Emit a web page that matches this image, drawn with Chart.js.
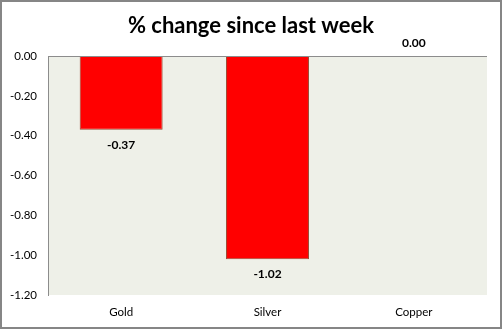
<!DOCTYPE html>
<html>
<head>
<meta charset="utf-8">
<script src="https://cdn.jsdelivr.net/npm/chart.js@4"></script>
<style>
  html, body { margin: 0; padding: 0; background: #fff; }
  #wrap { width: 502px; height: 329px; }
</style>
</head>
<body>
<div id="wrap"><canvas id="chart" width="502" height="329"></canvas></div>
<script>
const categories = ["Gold", "Silver", "Copper"];
const changes = [-0.37, -1.02, 0.0];
const yTicks = [0, -0.2, -0.4, -0.6, -0.8, -1.0, -1.2];
const titleText = "% change since last week";

const FONT = "Lato, 'Open Sans', sans-serif";

// plot background, zero line, title, outer frame and value labels
const decor = {
  id: "decor",
  beforeDraw(chart) {
    const { ctx, chartArea: a } = chart;
    ctx.save();
    ctx.fillStyle = "#eef0e8";
    ctx.fillRect(a.left, a.top, a.right - a.left, a.bottom - a.top);
    ctx.restore();
  },
  afterDatasetsDraw(chart) {
    const { ctx, scales } = chart;
    const y0 = Math.round(scales.y.getPixelForValue(0)) + 0.5;
    ctx.save();
    ctx.strokeStyle = "#8c8c8c";
    ctx.lineWidth = 1;
    ctx.beginPath();
    ctx.moveTo(chart.chartArea.left, y0);
    ctx.lineTo(chart.chartArea.right, y0);
    ctx.stroke();

    ctx.fillStyle = "#000";
    ctx.textAlign = "center";
    ctx.textBaseline = "middle";
    ctx.font = "bold 22px " + FONT;
    ctx.fillText(titleText, chart.width / 2, 26);

    ctx.font = "bold 12px " + FONT;
    chart.getDatasetMeta(0).data.forEach((bar, i) => {
      const v = changes[i];
      const y = v < 0 ? bar.y + 15 : bar.y - 13;
      ctx.fillText(v.toFixed(2), bar.x, y);
    });

    ctx.strokeStyle = "#868686";
    ctx.lineWidth = 2;
    ctx.strokeRect(1, 1, chart.width - 2, chart.height - 2);
    ctx.restore();
  },
};

new Chart(document.getElementById("chart"), {
  type: "bar",
  data: {
    labels: categories,
    datasets: [
      {
        data: changes,
        backgroundColor: "#ff0000",
        borderColor: "#9b4a33",
        borderWidth: (c) => (changes[c.dataIndex] === 0 ? 0 : 1),
        borderSkipped: false,
        categoryPercentage: 1,
        barPercentage: 0.567,
      },
    ],
  },
  options: {
    responsive: false,
    animation: false,
    layout: { padding: { left: 0, right: 15, top: 56, bottom: 0 } },
    plugins: {
      legend: { display: false },
      tooltip: { enabled: false },
      title: { display: false },
    },
    scales: {
      x: {
        grid: { display: false, drawTicks: false },
        border: { display: false },
        ticks: {
          color: "#000",
          padding: 10,
          font: { family: FONT, size: 11.5 },
        },
        afterFit(scale) {
          scale.height = 34;
        },
      },
      y: {
        min: -1.2,
        max: 0,
        grid: { display: false, drawTicks: false },
        border: { display: true, color: "#8c8c8c" },
        afterBuildTicks(scale) {
          scale.ticks = yTicks.map((v) => ({ value: v }));
        },
        ticks: {
          color: "#000",
          padding: 11,
          font: { family: FONT, size: 11.5 },
          callback: (v) => Number(v).toFixed(2),
        },
        afterFit(scale) {
          scale.width = 48;
        },
      },
    },
  },
  plugins: [decor],
});
</script>
</body>
</html>
